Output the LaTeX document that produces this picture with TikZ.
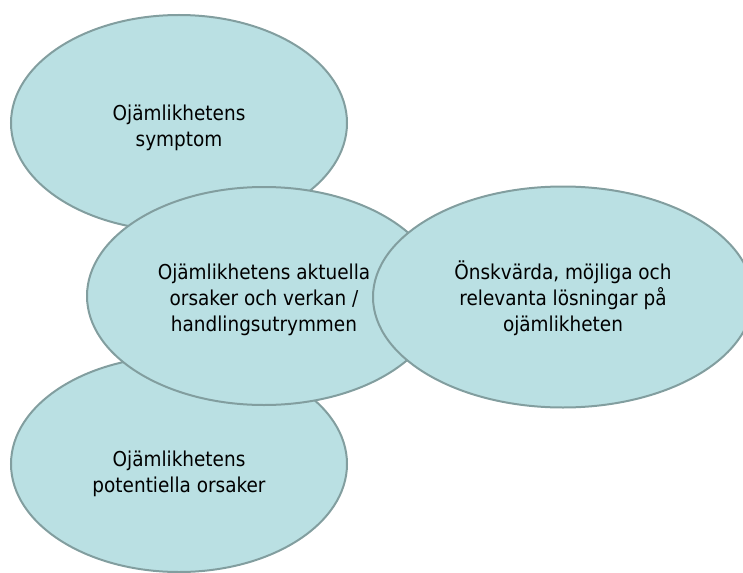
\documentclass[tikz,border=0pt]{standalone}
\usepackage{fontspec}
\usetikzlibrary{shapes.geometric}
\newfontfamily\blobfont{DejaVu Sans Condensed}
\definecolor{blobfill}{RGB}{186,224,227}
\definecolor{blobline}{RGB}{130,158,159}
\newcommand{\textdrop}[1]{\rule{0pt}{#1}}
\begin{document}
\begin{tikzpicture}[x=1pt, y=-1pt,
    blob/.style={draw=blobline, line width=2pt, fill=blobfill, ellipse, inner sep=0pt,
        align=center, font=\blobfont\fontsize{20.5}{26}\selectfont}]
    \clip (0, 0) rectangle (743, 572);
    % Outer circles
    \node[blob, minimum width=336, minimum height=216] (symptom) at (179, 123) {\textdrop{26pt}Ojämlikhetens\\symptom};
    \node[blob, minimum width=336, minimum height=216] (potential) at (179, 464) {\textdrop{36pt}Ojämlikhetens\\potentiella orsaker};
    
    % Middle and right
    \node[blob, minimum width=354, minimum height=218] (aktuell) at (264, 296) {\textdrop{24pt}Ojämlikhetens aktuella\\orsaker och verkan /\\handlingsutrymmen};
    \node[blob, minimum width=380, minimum height=221] (losning) at (563, 297) {\textdrop{21pt}Önskvärda, möjliga och\\relevanta lösningar på\\ojämlikheten};
\end{tikzpicture}
\end{document}
